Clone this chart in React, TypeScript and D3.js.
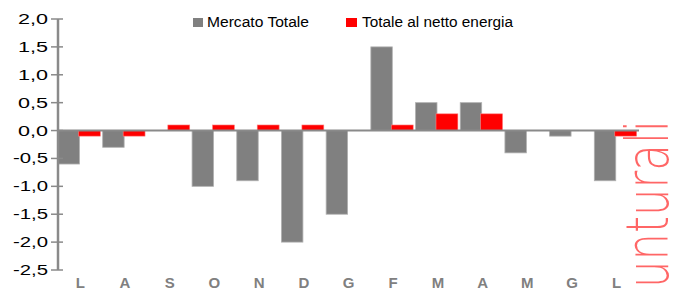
import React from 'react';
import * as d3 from 'd3';

const months = ['L', 'A', 'S', 'O', 'N', 'D', 'G', 'F', 'M', 'A', 'M', 'G', 'L'];
const mercatoTotale = [-0.6, -0.3, 0, -1.0, -0.9, -2.0, -1.5, 1.5, 0.5, 0.5, -0.4, -0.1, -0.9];
const nettoEnergia = [-0.1, -0.1, 0.1, 0.1, 0.1, 0.1, 0, 0.1, 0.3, 0.3, 0, 0, -0.1];
const yTicks = [2, 1.5, 1, 0.5, 0, -0.5, -1, -1.5, -2, -2.5];

const width = 687;
const height = 290;
const axisColor = '#8a8a8a';

const App = () => {
  const x = d3.scaleBand<number>()
    .domain(months.map((_, i) => i))
    .range([58, 639])
    .padding(0);

  const y = d3.scaleLinear().domain([-2.5, 2]).range([270, 19]);
  const fmt = (v: number) => d3.format('.1f')(v).replace('.', ',').replace('−', '-');

  const bw = x.bandwidth();
  const grayW = bw * 0.48;
  const redW = bw * 0.49;

  return (
    <svg width={width} height={height} style={{ position: 'absolute', left: 0, top: 0 }}
      fontFamily="'Liberation Sans', Arial, sans-serif">
      <rect width={width} height={height} fill="#fff" />

      {/* legenda */}
      <rect x={193} y={18} width={10} height={9} fill="#808080" />
      <text x={207} y={27} fontSize={14} fill="#000" textLength={102} lengthAdjust="spacingAndGlyphs">Mercato Totale</text>
      <rect x={346} y={18} width={11} height={9} fill="#ff0000" />
      <text x={362} y={27} fontSize={14} fill="#000" textLength={151} lengthAdjust="spacingAndGlyphs">Totale al netto energia</text>

      {/* barre */}
      {mercatoTotale.map((v, i) => v === 0 ? null : (
        <rect key={'g' + i}
          x={x(i)!}
          y={Math.min(y(v), y(0))}
          width={grayW}
          height={Math.abs(y(v) - y(0))}
          fill="#808080" stroke="#b0b0b0" strokeWidth={0.8} />
      ))}
      {nettoEnergia.map((v, i) => v === 0 ? null : (
        <rect key={'r' + i}
          x={x(i)! + grayW - 1}
          y={Math.min(y(v), y(0))}
          width={redW}
          height={Math.abs(y(v) - y(0))}
          fill="#ff0000" stroke="#ff8080" strokeWidth={0.6} />
      ))}

      {/* linea dello zero */}
      <line x1={58} x2={639} y1={y(0)} y2={y(0)} stroke={axisColor} strokeWidth={2} />

      {/* asse y */}
      <line x1={58} x2={58} y1={y(2)} y2={y(-2.5)} stroke={axisColor} strokeWidth={2.5} />
      {yTicks.map(t => (
        <g key={t}>
          <line x1={51} x2={63} y1={y(t)} y2={y(t)} stroke={axisColor} strokeWidth={1.5} />
          <text x={48} y={y(t) + 5} fontSize={14} textAnchor="end" fill="#000"
            textLength={t < 0 ? 35 : 30} lengthAdjust="spacingAndGlyphs">{fmt(t)}</text>
        </g>
      ))}

      {/* etichette mesi */}
      {months.map((m, i) => (
        <text key={'m' + i} x={x(i)! + bw / 2} y={288} fontSize={15} fontWeight="bold"
          fill="#808080" textAnchor="middle">{m}</text>
      ))}

      {/* logo */}
      <text transform="translate(668,288) rotate(-90)" fontSize={58} fontWeight={200}
        fontFamily="'DejaVu Sans', sans-serif" fill="#ff0000" fillOpacity={0.6}
        textLength={168} lengthAdjust="spacingAndGlyphs">unturali</text>
    </svg>
  );
};

export default App;
